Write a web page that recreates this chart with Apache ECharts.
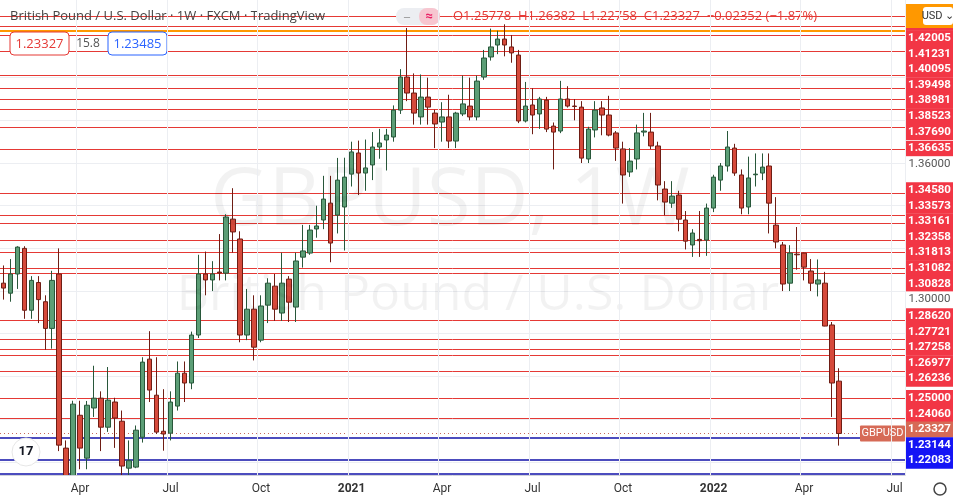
<!DOCTYPE html>
<html lang="en">
<head>
  <meta charset="UTF-8">
  <title>GBPUSD 1W</title>
  <script src="https://cdn.jsdelivr.net/npm/echarts@6/dist/echarts.min.js"></script>
  <style>
    html, body { margin: 0; padding: 0; background: #fff; }
    #main { width: 966px; height: 503px; }
  </style>
</head>
<body>
<div id="main"></div>
<script type="text/javascript">
  // weekly candles, first week starts Mon 13 Jan 2020
  var startDate = '2020-01-13';
  var emptyWeeks = 9;
  var opens = [1.3037,1.2990,1.3080,1.3200,1.2910,1.3040,1.2950,1.2825,1.3080,1.2264,1.1640,1.2418,1.2217,1.2452,1.2498,1.2362,1.2480,1.2390,1.2170,1.2175,
    1.2315,1.2681,1.2512,1.2343,1.2334,1.2461,1.2615,1.2569,1.2794,1.3080,1.3052,1.3089,1.3084,1.3337,1.3244,1.2794,1.2915,1.2770,1.2934,1.3023,
    1.2897,1.3056,1.2925,1.3159,1.3178,1.3291,1.3333,1.3412,1.3356,1.3394,1.3548,1.3647,1.3553,1.3591,1.3675,1.3708,1.3722,1.3848,1.4003,1.3928,
    1.3816,1.3909,1.3834,1.3792,1.3816,1.3703,1.3830,1.3867,1.3816,1.4003,1.4097,1.4153,1.4181,1.4144,1.4106,1.3797,1.3872,1.3830,1.3895,1.3773,
    1.3750,1.3900,1.3867,1.3862,1.3619,1.3755,1.3858,1.3825,1.3741,1.3666,1.3558,1.3619,1.3745,1.3745,1.3680,1.3478,1.3412,1.3450,1.3333,1.3216,
    1.3242,1.3239,1.3389,1.3520,1.3586,1.3670,1.3544,1.3394,1.3545,1.3553,1.3586,1.3309,1.3216,1.3037,1.3173,1.3178,1.3094,1.3033,1.3037,1.2841,
    1.25778];
  var closes = [1.3014,1.3080,1.3206,1.2910,1.3050,1.2960,1.2825,1.3050,1.2278,1.1650,1.2470,1.2264,1.2465,1.2498,1.2362,1.2489,1.2405,1.2180,1.2205,1.2348,
    1.2667,1.2536,1.2339,1.2330,1.2480,1.2615,1.2569,1.2794,1.3080,1.3052,1.3080,1.3085,1.3347,1.3277,1.2794,1.2915,1.2737,1.2930,1.3037,1.2915,
    1.3037,1.2948,1.3141,1.3188,1.3286,1.3305,1.3431,1.3225,1.3520,1.3534,1.3652,1.3553,1.3577,1.3675,1.3694,1.3731,1.3848,1.4003,1.3928,1.3834,
    1.3909,1.3862,1.3783,1.3816,1.3703,1.3834,1.3877,1.3816,1.3984,1.4092,1.4144,1.4181,1.4153,1.4116,1.3797,1.3867,1.3825,1.3900,1.3759,1.3745,
    1.3900,1.3867,1.3865,1.3623,1.3759,1.3848,1.3825,1.3731,1.3670,1.3544,1.3609,1.3741,1.3750,1.3680,1.3497,1.3417,1.3445,1.3337,1.3234,1.3272,
    1.3236,1.3389,1.3534,1.3586,1.3675,1.3553,1.3389,1.3530,1.3548,1.3581,1.3412,1.3230,1.3033,1.3178,1.3170,1.3112,1.3037,1.3052,1.2836,1.2569,
    1.23327];
  var lows = [1.2960,1.2950,1.3010,1.2870,1.2870,1.2850,1.2725,1.2730,1.2250,1.1409,1.1600,1.2165,1.2165,1.2410,1.2250,1.2340,1.2265,1.2075,1.2080,1.2170,
    1.2290,1.2480,1.2330,1.2252,1.2300,1.2440,1.2480,1.2540,1.2780,1.2980,1.3000,1.3050,1.3050,1.3180,1.2760,1.2770,1.2675,1.2760,1.2850,1.2860,
    1.2860,1.2855,1.2855,1.3110,1.3170,1.3250,1.3290,1.3135,1.3270,1.3190,1.3490,1.3450,1.3470,1.3520,1.3620,1.3565,1.3700,1.3830,1.3890,1.3780,
    1.3780,1.3780,1.3670,1.3700,1.3670,1.3670,1.3820,1.3800,1.3800,1.3990,1.4080,1.4110,1.4100,1.4070,1.3787,1.3790,1.3735,1.3760,1.3745,1.3570,
    1.3740,1.3860,1.3800,1.3600,1.3600,1.3720,1.3730,1.3725,1.3610,1.3410,1.3535,1.3570,1.3725,1.3665,1.3425,1.3355,1.3390,1.3280,1.3195,1.3160,
    1.3160,1.3165,1.3370,1.3470,1.3560,1.3540,1.3360,1.3360,1.3490,1.3520,1.3270,1.3200,1.3000,1.3000,1.3100,1.3050,1.3000,1.2975,1.2835,1.2410,
    1.22758];
  var highs = [1.3120,1.3150,1.3210,1.3210,1.3070,1.3070,1.2980,1.3095,1.3200,1.2300,1.2486,1.2486,1.2485,1.2650,1.2530,1.2644,1.2500,1.2440,1.2300,1.2370,
    1.2690,1.2812,1.2690,1.2540,1.2530,1.2670,1.2670,1.2810,1.3170,1.3185,1.3140,1.3267,1.3360,1.3482,1.3280,1.3010,1.2980,1.2980,1.3060,1.3080,
    1.3180,1.3070,1.3180,1.3310,1.3310,1.3400,1.3540,1.3540,1.3624,1.3625,1.3700,1.3705,1.3710,1.3745,1.3760,1.3760,1.3870,1.4040,1.4233,1.4020,
    1.4015,1.4000,1.3850,1.3885,1.3920,1.3840,1.4010,1.4000,1.4010,1.4130,1.4230,1.4220,1.4250,1.4200,1.4130,1.3980,1.3950,1.3910,1.3910,1.3790,
    1.3985,1.3960,1.3900,1.3890,1.3770,1.3890,1.3890,1.3915,1.3750,1.3700,1.3670,1.3780,1.3835,1.3835,1.3700,1.3515,1.3515,1.3470,1.3375,1.3290,
    1.3375,1.3410,1.3545,1.3600,1.3750,1.3690,1.3570,1.3630,1.3645,1.3645,1.3645,1.3440,1.3230,1.3215,1.3300,1.3180,1.3150,1.3148,1.3090,1.2855,
    1.26382];

  // drawn horizontal levels
  var redLevels = [1.42005,1.41231,1.40095,1.39498,1.38981,1.38523,1.37690,1.36635,1.34580,1.33573,1.33161,1.32358,1.31813,1.31082,1.30828,
    1.28620,1.27721,1.27258,1.26977,1.26236,1.25000,1.24060];
  var redUnlabeled = [1.4289,1.4242];
  var orangeLevel = 1.42176;
  var blueLevels = [1.23144,1.22083];
  var blueUnlabeled = [1.2142];
  var gridLevels = [1.22,1.24,1.26,1.28,1.30,1.32,1.34,1.36,1.38,1.40,1.42];
  var axisTicks = [1.36, 1.30];
  var lastPrice = 1.23327;
  var monthNames = ['Jan','Feb','Mar','Apr','May','Jun','Jul','Aug','Sep','Oct','Nov','Dec'];

  var categories = [];
  var tickLabels = {};
  var d0 = new Date(startDate + 'T00:00:00Z');
  for (var i = 0; i < opens.length + emptyWeeks; i++) {
    var d = new Date(d0.getTime() + i * 7 * 86400000);
    var e = new Date(d.getTime() + 6 * 86400000);
    categories.push(d.toISOString().slice(0, 10));
    var m = null;
    if (d.getUTCDate() === 1) m = d;
    else if (e.getUTCMonth() !== d.getUTCMonth()) m = e;
    if (m && m.getUTCMonth() % 3 === 0) {
      tickLabels[i] = m.getUTCMonth() === 0 ? '{b|' + m.getUTCFullYear() + '}' : monthNames[m.getUTCMonth()];
    }
  }

  var candles = opens.map(function (o, i) { return [o, closes[i], lows[i], highs[i]]; });

  // one empty helper series per line colour, each carrying its own markLine
  function levelSeries(values, style, z) {
    return {
      type: 'line', data: [], z: z, silent: true,
      markLine: {
        silent: true, symbol: 'none', label: { show: false }, animation: false,
        precision: 5,
        lineStyle: style,
        data: values.map(function (v) { return { yAxis: v }; })
      }
    };
  }

  var myChart = echarts.init(document.getElementById('main'));
  var option = {
    animation: false,
    backgroundColor: '#ffffff',
    grid: { left: 0, right: 61, top: 0, bottom: 28, outerBoundsMode: 'none' },
    xAxis: {
      type: 'category',
      data: categories,
      boundaryGap: true,
      zlevel: 3,
      axisLine: { show: true, lineStyle: { color: '#d0d3da' } },
      axisTick: { show: false },
      axisLabel: {
        interval: function (idx) { return tickLabels[idx] !== undefined; },
        formatter: function (v, idx) { return tickLabels[idx] || ''; },
        color: '#333', fontSize: 12, fontFamily: 'Roboto', margin: 8,
        rich: { b: { fontWeight: 'bold', fontSize: 12, fontFamily: 'Roboto', color: '#333' } }
      },
      splitLine: {
        show: true,
        interval: function (idx) { return tickLabels[idx] !== undefined; },
        lineStyle: { color: '#eceef2' }
      }
    },
    yAxis: {
      type: 'value',
      position: 'right',
      min: 1.2138,
      max: 1.4364,
      axisLine: { show: true, lineStyle: { color: '#c8cbd2' } },
      axisTick: { show: false },
      axisLabel: { show: false },
      splitLine: { show: false }
    },
    series: [
      levelSeries(gridLevels, { color: '#eceef2', width: 1, type: 'solid' }, 0),
      levelSeries(redUnlabeled.concat(redLevels), { color: '#e53935', width: 1, type: 'solid' }, 1),
      levelSeries([orangeLevel], { color: '#ff9800', width: 2, type: 'solid' }, 1),
      levelSeries(blueLevels.concat(blueUnlabeled), { color: '#1010a8', width: 1.5, type: 'solid' }, 1),
      levelSeries([lastPrice], { color: '#c86a5a', width: 1, type: [1, 3] }, 1),
      {
        type: 'candlestick',
        data: candles,
        barWidth: 5,
        clip: true,
        z: 5,
        itemStyle: {
          color: '#5c9e76', color0: '#d64a3b',
          borderColor: '#28573a', borderColor0: '#6e1d14', borderWidth: 1
        }
      }
    ]
  };
  myChart.setOption(option);

  // right price labels, pushed apart like the platform does
  function priceLabels() {
    var h = 15.6, bottom = 475;
    var items = [];
    redLevels.forEach(function (v) { items.push({ v: v, bg: '#f23645', fg: '#fff' }); });
    items.push({ v: orangeLevel, bg: '#f23645', fg: '#fff' });
    blueLevels.forEach(function (v) { items.push({ v: v, bg: '#1515f5', fg: '#fff' }); });
    axisTicks.forEach(function (v) { items.push({ v: v, bg: '#ffffff', fg: '#555' }); });
    items.push({ v: lastPrice, bg: '#d66a56', fg: '#fff' });
    items.forEach(function (it) { it.y = myChart.convertToPixel({ yAxisIndex: 0 }, it.v); });
    items.sort(function (a, b) { return a.y - b.y; });
    var cl = items.map(function (it) { return { items: [it], top: it.y - h / 2 }; });
    var changed = true;
    while (changed) {
      changed = false;
      for (var i = 1; i < cl.length; i++) {
        if (cl[i].top < cl[i - 1].top + cl[i - 1].items.length * h) {
          var its = cl[i - 1].items.concat(cl[i].items);
          var mean = its.reduce(function (s, it) { return s + it.y; }, 0) / its.length;
          var top = mean - its.length * h / 2;
          top = Math.max(0, Math.min(top, bottom - its.length * h));
          cl.splice(i - 1, 2, { items: its, top: top });
          changed = true;
          break;
        }
      }
    }
    var g = [];
    cl.forEach(function (c) {
      c.items.forEach(function (it, k) {
        var y = c.top + k * h;
        g.push({ type: 'rect', shape: { x: 906, y: y, width: 47, height: h + 0.4 }, style: { fill: it.bg }, z: 50 });
        g.push({ type: 'text', x: 929.5, y: y + h / 2, style: {
          text: it.v.toFixed(5), fill: it.fg, font: (it.bg === '#ffffff' ? 'normal' : 'bold') + ' 11.5px Roboto',
          align: 'center', verticalAlign: 'middle' }, z: 51 });
      });
    });
    return g;
  }

  var py = myChart.convertToPixel({ yAxisIndex: 0 }, lastPrice);
  var graphics = priceLabels().concat([
    { type: 'text', x: 450, y: 202, z: 0, style: { text: 'GBPUSD, 1W', font: '80px "Open Sans"', fill: 'rgba(0,0,0,0.05)', align: 'center', verticalAlign: 'middle' } },
    { type: 'text', x: 478, y: 296, z: 0, style: { text: 'British Pound / U.S. Dollar', font: '50px "Open Sans"', fill: 'rgba(0,0,0,0.05)', align: 'center', verticalAlign: 'middle' } },
    { type: 'text', x: 10, y: 16, z: 60, style: { text: 'British Pound / U.S. Dollar · 1W · FXCM · TradingView', font: '13px "Open Sans"', fill: '#444', verticalAlign: 'middle' } },
    { type: 'rect', shape: { x: 396, y: 8, width: 44, height: 17, r: 8 }, style: { fill: '#eceef2' }, z: 60 },
    { type: 'rect', shape: { x: 419, y: 8, width: 21, height: 17, r: 8 }, style: { fill: '#f7c6d0' }, z: 61 },
    { type: 'text', x: 407, y: 16.5, z: 62, style: { text: '‒', font: 'bold 12px Roboto', fill: '#999', align: 'center', verticalAlign: 'middle' } },
    { type: 'text', x: 429, y: 16.5, z: 62, style: { text: '≈', font: 'bold 13px Roboto', fill: '#e91e63', align: 'center', verticalAlign: 'middle' } },
    { type: 'text', x: 453, y: 16, z: 60, style: { text: 'O1.25778  H1.26382  L1.22758  C1.23327  −0.02352 (−1.87%)', font: '13px "Open Sans"', fill: '#e53935', verticalAlign: 'middle' } },
    { type: 'rect', shape: { x: 10, y: 32, width: 59, height: 23, r: 4 }, style: { fill: '#fff', stroke: '#e53935', lineWidth: 1 }, z: 60 },
    { type: 'text', x: 39.5, y: 44, z: 61, style: { text: '1.23327', font: '13px "Open Sans"', fill: '#e53935', align: 'center', verticalAlign: 'middle' } },
    { type: 'text', x: 88, y: 44, z: 61, style: { text: '15.8', font: '12px "Open Sans"', fill: '#555', align: 'center', verticalAlign: 'middle' } },
    { type: 'rect', shape: { x: 108, y: 32, width: 59, height: 23, r: 4 }, style: { fill: '#fff', stroke: '#2962ff', lineWidth: 1 }, z: 60 },
    { type: 'text', x: 137.5, y: 44, z: 61, style: { text: '1.23485', font: '13px "Open Sans"', fill: '#2962ff', align: 'center', verticalAlign: 'middle' } },
    { type: 'rect', shape: { x: 906, y: 4, width: 47, height: 24 }, style: { fill: '#ff9800' }, z: 55 },
    { type: 'rect', shape: { x: 923, y: 7, width: 30, height: 18, r: 3 }, style: { fill: '#fff' }, z: 56 },
    { type: 'text', x: 938, y: 16.5, z: 57, style: { text: 'USD ⌄', font: '11px Roboto', fill: '#333', align: 'center', verticalAlign: 'middle' } },
    { type: 'rect', shape: { x: 860, y: py - 8, width: 45, height: 16, r: 1 }, style: { fill: '#d66a56' }, z: 50 },
    { type: 'text', x: 882.5, y: py, z: 51, style: { text: 'GBPUSD', font: '11px Roboto', fill: '#fff', align: 'center', verticalAlign: 'middle' } },
    { type: 'circle', shape: { cx: 26, cy: 452, r: 14 }, style: { fill: '#fff', stroke: '#e6e6e6' }, z: 60 },
    { type: 'text', x: 26, y: 452, z: 61, style: { text: '17', font: 'bold 13px Roboto', fill: '#131722', align: 'center', verticalAlign: 'middle' } },
    { type: 'circle', shape: { cx: 940, cy: 489, r: 6 }, style: { fill: 'none', stroke: '#444', lineWidth: 1.5 }, z: 60 }
  ]);
  graphics.forEach(function (g) { g.zlevel = 1; });
  // mask below the plot so the clipped March 2020 lows stay out of the date row
  graphics.push({ type: 'rect', zlevel: 2, shape: { x: 0, y: 476, width: 905, height: 27 }, style: { fill: '#ffffff' } });
  myChart.setOption({ graphic: graphics });
</script>
</body>
</html>
